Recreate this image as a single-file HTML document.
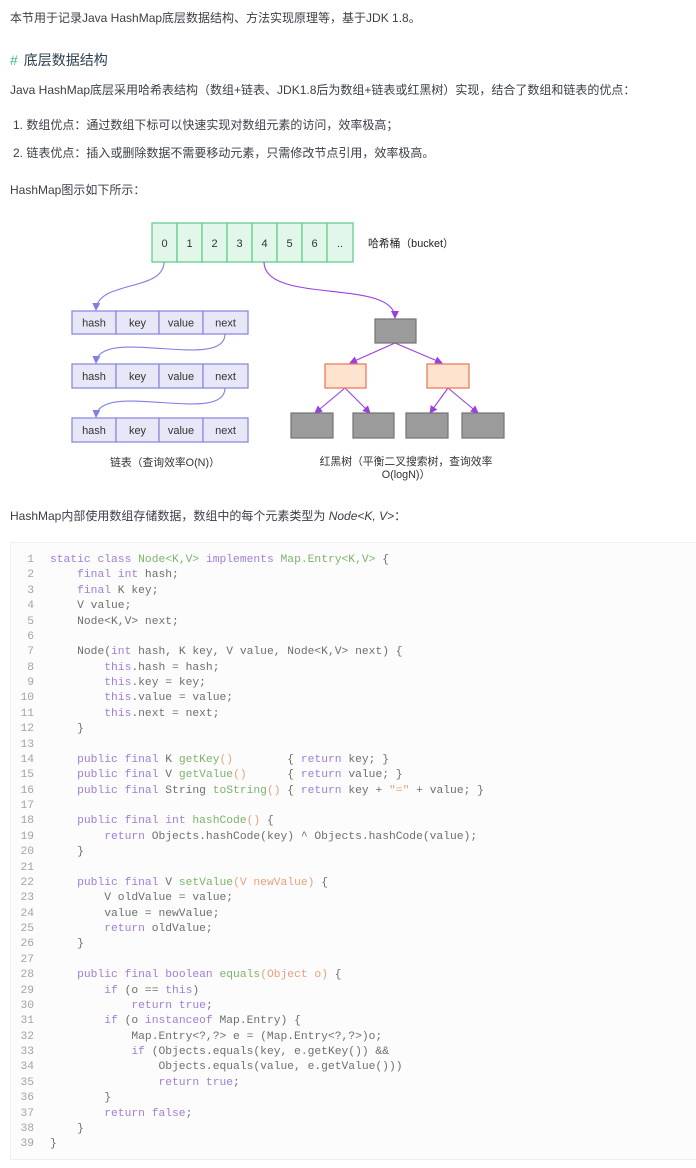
<!DOCTYPE html>
<html><head><meta charset="utf-8">
<style>
html,body{margin:0;padding:0;background:#fff;}
body{width:696px;height:1168px;position:relative;overflow:hidden;font-family:"Liberation Sans","Noto Sans CJK SC",sans-serif;color:#3a3f46;}
.t{position:absolute;left:10px;font-size:12px;line-height:20px;white-space:nowrap;}
.h{position:absolute;left:10px;font-size:14px;line-height:22px;white-space:nowrap;color:#2c3e50;}
.h b{color:#42b983;font-weight:normal;margin-right:6px;}
.code{position:absolute;left:10px;top:542px;width:700px;height:618px;background:#fcfcfc;border:1px solid #efefef;box-sizing:border-box;}
pre{margin:0;position:absolute;font-family:"Liberation Mono",monospace;font-size:11.3px;line-height:15.38px;white-space:pre;}
.ln{left:0;width:23px;text-align:right;color:#a3a3a3;top:10px;}
.src{left:39px;color:#6e6e6e;top:10px;}
.k{color:#a07fd6}.g{color:#7db46c}.o{color:#e6a17c}
</style></head><body>

<div class="t" style="top:8px">本节用于记录Java HashMap底层数据结构、方法实现原理等，基于JDK 1.8。</div>
<div class="h" style="top:49px"><b>#</b>底层数据结构</div>
<div class="t" style="top:80px">Java HashMap底层采用哈希表结构（数组+链表、JDK1.8后为数组+链表或红黑树）实现，结合了数组和链表的优点：</div>
<div class="t" style="top:115px;left:13px">1. 数组优点：通过数组下标可以快速实现对数组元素的访问，效率极高；</div>
<div class="t" style="top:143px;left:13px">2. 链表优点：插入或删除数据不需要移动元素，只需修改节点引用，效率极高。</div>
<div class="t" style="top:180px">HashMap图示如下所示：</div>
<div class="t" style="top:506px">HashMap内部使用数组存储数据，数组中的每个元素类型为 <i>Node&lt;K, V&gt;</i>：</div>

<svg style="position:absolute;left:0;top:0" width="696" height="500" viewBox="0 0 696 500" font-family="Liberation Sans, Noto Sans CJK SC, sans-serif">
<defs>
<marker id="ab" markerWidth="8" markerHeight="8" refX="7" refY="4" orient="auto" markerUnits="userSpaceOnUse"><path d="M0,0 L8,4 L0,8 z" fill="#7f7fe6"/></marker>
<marker id="ap" markerWidth="8" markerHeight="8" refX="7" refY="4" orient="auto" markerUnits="userSpaceOnUse"><path d="M0,0 L8,4 L0,8 z" fill="#9a3fe6"/></marker>
</defs>
<!-- bucket -->
<g stroke="#62d08e" stroke-width="1.3" fill="#e3f6ea">
<rect x="152" y="223" width="25" height="39"/><rect x="177" y="223" width="25" height="39"/>
<rect x="202" y="223" width="25" height="39"/><rect x="227" y="223" width="25" height="39"/>
<rect x="252" y="223" width="25" height="39"/><rect x="277" y="223" width="25" height="39"/>
<rect x="302" y="223" width="25" height="39"/><rect x="327" y="223" width="26" height="39"/>
</g>
<g font-size="11" fill="#333" text-anchor="middle">
<text x="164.5" y="247">0</text><text x="189.5" y="247">1</text><text x="214.5" y="247">2</text><text x="239.5" y="247">3</text>
<text x="264.5" y="247">4</text><text x="289.5" y="247">5</text><text x="314.5" y="247">6</text><text x="340" y="247">..</text>
</g>
<text x="368" y="247" font-size="10.8" fill="#222">哈希桶（bucket）</text>

<!-- linked list rows -->
<g stroke="#8b8be0" stroke-width="1.3" fill="#e7e7f7">
<rect x="72" y="311" width="44" height="23"/><rect x="116" y="311" width="43" height="23"/><rect x="159" y="311" width="44" height="23"/><rect x="203" y="311" width="45" height="23"/>
<rect x="72" y="364" width="44" height="24"/><rect x="116" y="364" width="43" height="24"/><rect x="159" y="364" width="44" height="24"/><rect x="203" y="364" width="45" height="24"/>
<rect x="72" y="418" width="44" height="24"/><rect x="116" y="418" width="43" height="24"/><rect x="159" y="418" width="44" height="24"/><rect x="203" y="418" width="45" height="24"/>
</g>
<g font-size="11" fill="#333" text-anchor="middle">
<text x="94" y="326.5">hash</text><text x="137.5" y="326.5">key</text><text x="181" y="326.5">value</text><text x="225.5" y="326.5">next</text>
<text x="94" y="380">hash</text><text x="137.5" y="380">key</text><text x="181" y="380">value</text><text x="225.5" y="380">next</text>
<text x="94" y="434">hash</text><text x="137.5" y="434">key</text><text x="181" y="434">value</text><text x="225.5" y="434">next</text>
</g>
<g fill="none" stroke="#7f7fe6" stroke-width="1.1">
<path d="M164,262 C164,292 97,280 96,310" marker-end="url(#ab)"/>
<path d="M225,334 C225,372 98,325 96,363" marker-end="url(#ab)"/>
<path d="M225,388 C225,426 98,379 96,417" marker-end="url(#ab)"/>
</g>
<text x="165" y="466" font-size="10.8" fill="#333" text-anchor="middle">链表（查询效率O(N)）</text>

<!-- tree -->
<g fill="none" stroke="#9a3fe6" stroke-width="1.1">
<path d="M264,262 C264,305 395,278 395,318" marker-end="url(#ap)"/>
<path d="M395,343 L350,363" marker-end="url(#ap)"/>
<path d="M395,343 L442,363" marker-end="url(#ap)"/>
<path d="M345,388 L315,413" marker-end="url(#ap)"/>
<path d="M345,388 L370,413" marker-end="url(#ap)"/>
<path d="M448,388 L430,413" marker-end="url(#ap)"/>
<path d="M448,388 L478,413" marker-end="url(#ap)"/>
</g>
<g stroke="#737373" stroke-width="1.2" fill="#9b9b9b">
<rect x="375" y="319" width="41" height="24"/>
<rect x="291" y="413" width="42" height="25"/><rect x="353" y="413" width="41" height="25"/>
<rect x="406" y="413" width="42" height="25"/><rect x="462" y="413" width="42" height="25"/>
</g>
<g stroke="#ef7a62" stroke-width="1.3" fill="#fee3cf">
<rect x="325" y="364" width="41" height="24"/><rect x="427" y="364" width="42" height="24"/>
</g>
<text x="406" y="465" font-size="10.8" fill="#333" text-anchor="middle">红黑树（平衡二叉搜索树，查询效率</text>
<text x="406" y="478" font-size="10.8" fill="#333" text-anchor="middle">O(logN)）</text>
</svg>

<div class="code">
<pre class="ln">1
2
3
4
5
6
7
8
9
10
11
12
13
14
15
16
17
18
19
20
21
22
23
24
25
26
27
28
29
30
31
32
33
34
35
36
37
38
39</pre>
<pre class="src"><span class="k">static class</span> <span class="g">Node&lt;K,V&gt;</span> <span class="k">implements</span> <span class="g">Map.Entry&lt;K,V&gt;</span> {
    <span class="k">final int</span> hash;
    <span class="k">final</span> K key;
    V value;
    Node&lt;K,V&gt; next;

    Node(<span class="k">int</span> hash, K key, V value, Node&lt;K,V&gt; next) {
        <span class="k">this</span>.hash = hash;
        <span class="k">this</span>.key = key;
        <span class="k">this</span>.value = value;
        <span class="k">this</span>.next = next;
    }

    <span class="k">public final</span> K <span class="g">getKey</span><span class="o">()</span>        { <span class="k">return</span> key; }
    <span class="k">public final</span> V <span class="g">getValue</span><span class="o">()</span>      { <span class="k">return</span> value; }
    <span class="k">public final</span> String <span class="g">toString</span><span class="o">()</span> { <span class="k">return</span> key + <span class="o">"="</span> + value; }

    <span class="k">public final int</span> <span class="g">hashCode</span><span class="o">()</span> {
        <span class="k">return</span> Objects.hashCode(key) ^ Objects.hashCode(value);
    }

    <span class="k">public final</span> V <span class="g">setValue</span><span class="o">(V newValue)</span> {
        V oldValue = value;
        value = newValue;
        <span class="k">return</span> oldValue;
    }

    <span class="k">public final boolean</span> <span class="g">equals</span><span class="o">(Object o)</span> {
        <span class="k">if</span> (o == <span class="k">this</span>)
            <span class="k">return true</span>;
        <span class="k">if</span> (o <span class="k">instanceof</span> Map.Entry) {
            Map.Entry&lt;?,?&gt; e = (Map.Entry&lt;?,?&gt;)o;
            <span class="k">if</span> (Objects.equals(key, e.getKey()) &amp;&amp;
                Objects.equals(value, e.getValue()))
                <span class="k">return true</span>;
        }
        <span class="k">return false</span>;
    }
}</pre>
</div>
</body></html>
